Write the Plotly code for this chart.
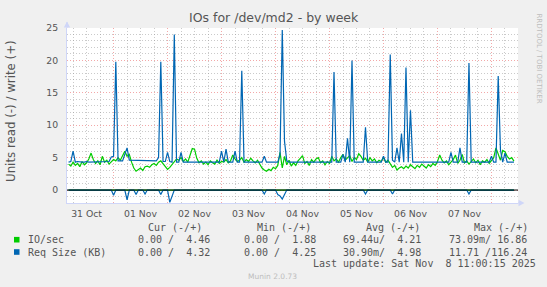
import plotly.graph_objects as go
import pandas as pd

# ---------------- data (hourly samples, hour 0 = 2025-11-01 00:00) ----------------
start_hour = -20

# IO/sec  (write, plotted +)
write_io = [
    4.0, 3.7, 4.3, 3.8, 4.1, 3.6, 4.4, 3.9, 4.2, 4.8,
    5.7, 4.7, 4.1, 4.5, 3.9, 5.2, 4.3, 4.6, 4.0, 4.4,
    4.7, 4.5, 5.0, 4.6, 5.3, 6.0, 5.2, 5.5, 4.3, 3.4,
    2.9, 3.1, 3.4, 3.0, 3.6, 3.7, 3.5, 3.9, 4.1, 3.8,
    4.3, 4.5, 4.0, 3.6, 3.2, 3.5, 4.0, 4.4, 4.8, 4.6,
    5.0, 4.4, 4.8, 4.3, 5.2, 6.4, 6.3, 4.9, 4.2, 4.5,
    4.0, 4.3, 3.9, 4.5, 4.2, 4.0, 4.6, 4.1, 4.4, 4.3,
    4.7, 4.2, 4.5, 5.4, 4.8, 4.4, 4.6, 5.0, 4.3, 4.7,
    4.4, 4.9, 4.5, 4.2, 4.6, 4.0, 3.4, 3.1, 2.9, 3.2,
    3.0, 3.5, 3.3, 3.8, 5.8, 3.4, 5.2, 3.9, 4.6, 3.7,
    4.2, 3.8, 4.5, 4.9, 5.3, 4.1, 4.4, 3.8, 4.7, 4.3,
    4.8, 5.0, 4.2, 4.5, 3.9, 4.4, 4.1, 5.2, 4.5, 4.8,
    4.3, 5.0, 5.5, 4.6, 4.9, 5.3, 4.4, 5.0, 4.7, 5.6,
    5.2, 4.6, 4.9, 4.3, 5.0, 4.5, 4.8, 4.2, 4.6, 4.4,
    5.0, 4.3, 4.6, 4.1, 3.5, 3.8, 3.1, 3.4, 3.6, 3.3,
    3.7, 3.4, 3.9, 3.6, 3.3, 3.8, 3.5, 4.0, 3.7, 3.4,
    3.9, 3.6, 4.1, 3.8, 4.4, 5.4, 4.6, 4.2, 4.5, 3.9,
    4.3, 4.7, 5.4, 4.1, 4.6, 5.5, 4.2, 4.5, 4.0, 4.4,
    4.8, 4.2, 4.6, 3.9, 4.5, 4.3, 4.7, 4.1, 4.6, 5.0,
    6.5, 5.6, 4.6, 6.1, 5.9, 5.2, 4.8, 5.0, 4.46,
]

# Req Size (KB)  (write, plotted +)
write_req = [
    4.3, 4.4, 6.0, 4.3, 4.4, 4.3, 4.3, 4.3, 4.4, 4.3,
    4.3, 4.3, 4.4, 4.3, 4.3, 4.3, 4.4, 4.3, 4.4, 5.1,
    5.2, 19.8, 4.5, 4.5, 4.5, 5.5, 6.5, 4.6, 4.6, 4.6,
    4.6, 4.6, 4.6, 4.6, 4.5, 4.5, 4.5, 4.5, 4.5, 4.5,
    5.0, 19.8, 4.4, 4.4, 5.8, 4.4, 4.3, 24.0, 4.3, 4.3,
    5.8, 4.3, 4.3, 4.3, 4.3, 4.3, 4.3, 4.3, 4.3, 4.3,
    4.3, 4.3, 4.3, 4.3, 4.3, 4.3, 4.3, 4.3, 6.0, 4.3,
    6.3, 4.3, 4.3, 4.3, 6.0, 4.3, 4.3, 18.4, 4.3, 4.3,
    4.3, 4.3, 4.3, 4.3, 4.3, 4.3, 4.3, 5.2, 4.3, 4.3,
    4.3, 4.3, 4.3, 4.3, 5.5, 24.7, 7.5, 4.5, 4.3, 4.3,
    4.3, 4.3, 4.3, 4.3, 4.3, 4.3, 4.3, 4.3, 4.3, 4.3,
    4.3, 4.3, 4.3, 4.3, 4.3, 4.3, 4.3, 4.3, 18.2, 4.3,
    4.3, 4.3, 5.5, 4.3, 8.0, 4.3, 20.0, 4.3, 4.3, 4.3,
    4.3, 4.3, 9.7, 4.3, 4.3, 4.3, 4.3, 4.3, 4.3, 4.3,
    5.2, 4.3, 4.3, 20.9, 4.6, 4.3, 6.5, 4.3, 8.7, 4.3,
    18.9, 4.3, 12.3, 4.3, 4.3, 4.3, 4.3, 4.3, 4.3, 4.3,
    4.3, 4.3, 4.3, 4.3, 4.3, 4.3, 4.3, 4.3, 4.3, 4.3,
    5.8, 4.3, 4.3, 4.3, 6.5, 4.3, 4.3, 4.3, 19.6, 4.3,
    4.3, 4.3, 4.3, 4.3, 4.3, 4.3, 4.3, 4.3, 5.2, 4.3,
    4.3, 17.6, 6.2, 4.3, 5.7, 4.3, 4.3, 4.3, 4.32,
]

# read side (plotted -), non-zero samples only
read_req_hours = [0, 6, 10, 14, 21, 25, 26, 67, 73, 74, 75, 76, 112, 124, 158]
read_req_vals = [0.8, 1.5, 0.7, 0.6, 0.7, 1.9, 0.8, 0.6, 0.7, 0.9, 1.4, 0.6, 0.6, 0.6, 0.6]
read_io_hours = [1, 27, 75, 130]
read_io_vals = [0.05, 0.07, 0.04, 0.03]

# legend / text
title = "IOs for /dev/md2 - by week"
y_title = "Units read (-) / write (+)"
series_names = ["IO/sec", "Req Size (KB)"]
col_headers = ["Cur (-/+)", "Min (-/+)", "Avg (-/+)", "Max (-/+)"]
io_stats = ["0.00 /  4.46", "0.00 /  1.88", "69.44u/  4.21", "73.09m/ 16.86"]
req_stats = ["0.00 /  4.32", "0.00 /  4.25", "30.90m/  4.98", "11.71 /116.24"]
last_update = "Last update: Sat Nov  8 11:00:15 2025"
footer = "Munin 2.0.73"
side_text = "RRDTOOL / TOBI OETIKER"

GREEN = "#00CC00"
BLUE = "#0066B3"
TXT = "#555555"

# ---------------- build ----------------
hours = list(range(start_hour, start_hour + len(write_io)))
t0 = pd.Timestamp("2025-11-01 00:00")
x = [t0 + pd.Timedelta(hours=h) for h in hours]


def neg_series(hrs, vals):
    d = dict(zip(hrs, vals))
    return [-d.get(h, 0.0) for h in hours]


W, H = 547, 287
L, R, T, B = 67, 29, 28, 84
PW, PH = W - L - R, H - T - B


def px(v):
    return (v - L) / PW


def py(v):
    return (H - B - v) / PH


def nb(s):
    return s.replace(" ", "\u00a0")


fig = go.Figure()
fig.add_trace(go.Scatter(x=x, y=neg_series(read_io_hours, read_io_vals), mode="lines",
                         line=dict(color=GREEN, width=1.2), showlegend=False))
fig.add_trace(go.Scatter(x=x, y=write_io, mode="lines",
                         line=dict(color=GREEN, width=1.2), showlegend=False))
fig.add_trace(go.Scatter(x=x, y=neg_series(read_req_hours, read_req_vals), mode="lines",
                         line=dict(color=BLUE, width=1.2), showlegend=False))
fig.add_trace(go.Scatter(x=x, y=write_req, mode="lines",
                         line=dict(color=BLUE, width=1.2), showlegend=False))

MGRID = "rgba(235,110,110,0.6)"
GRID = "rgba(150,150,150,0.5)"
DASH = "1px,2px"
AXIS = "#CFD6F8"
tickfont = dict(family="DejaVu Sans", size=9.3, color=TXT)

fig.update_layout(
    width=W, height=H,
    margin=dict(l=L, r=R, t=T, b=B, pad=0),
    paper_bgcolor="#F0F0F0", plot_bgcolor="#FFFFFF",
    showlegend=False,
    xaxis=dict(
        type="date",
        range=[(t0 + pd.Timedelta(hours=-20.7)).isoformat(), (t0 + pd.Timedelta(hours=179.8)).isoformat()],
        tick0="2025-11-01", dtick=86400000, ticklabelmode="period", tickformat="%d %b",
        showgrid=True, gridcolor=MGRID, griddash=DASH, gridwidth=1,
        minor=dict(dtick=6 * 3600000, tick0="2025-11-01", showgrid=True, gridcolor=GRID, griddash=DASH, gridwidth=1),
        showline=True, linecolor=AXIS, linewidth=1, ticks="", zeroline=False,
        tickfont=tickfont, ticklabelstandoff=2,
    ),
    yaxis=dict(
        range=[-2, 25], tick0=0, dtick=5,
        showgrid=True, gridcolor=MGRID, griddash=DASH, gridwidth=1,
        minor=dict(dtick=1, tick0=0, showgrid=True, gridcolor=GRID, griddash=DASH, gridwidth=1),
        showline=True, linecolor=AXIS, linewidth=1, ticks="", zeroline=False,
        tickfont=tickfont, ticklabelstandoff=6,
    ),
)

shapes = []
# zero rule
shapes.append(dict(type="line", xref="paper", yref="y", x0=0, x1=1, y0=0, y1=0,
                   line=dict(color="#000000", width=1), layer="above"))
# axis extensions and arrows
shapes.append(dict(type="line", xref="paper", yref="paper", x0=px(67), x1=px(67), y0=py(28), y1=py(22),
                   line=dict(color=AXIS, width=1)))
shapes.append(dict(type="path", xref="paper", yref="paper",
                   path=f"M {px(63.8)},{py(27.5)} L {px(70.2)},{py(27.5)} L {px(67)},{py(21.5)} Z",
                   fillcolor=AXIS, line=dict(width=0)))
shapes.append(dict(type="line", xref="paper", yref="paper", x0=px(518), x1=px(521), y0=py(203), y1=py(203),
                   line=dict(color=AXIS, width=1)))
shapes.append(dict(type="path", xref="paper", yref="paper",
                   path=f"M {px(518.5)},{py(199.8)} L {px(518.5)},{py(206.2)} L {px(524.5)},{py(203)} Z",
                   fillcolor=AXIS, line=dict(width=0)))
# legend swatches
for col, yc in ((GREEN, 239.7), (BLUE, 252.0)):
    shapes.append(dict(type="rect", xref="paper", yref="paper",
                       x0=px(14), x1=px(19.5), y0=py(yc - 2.8), y1=py(yc + 2.8),
                       fillcolor=col, line=dict(width=0)))
fig.update_layout(shapes=shapes)

ann = []


def text(s, xp, yp, size, color=TXT, family="DejaVu Sans", xanchor="left", angle=0):
    ann.append(dict(text=nb(s), x=px(xp), y=py(yp), xref="paper", yref="paper",
                    xanchor=xanchor, yanchor="middle", showarrow=False, borderpad=0,
                    textangle=angle, font=dict(family=family, size=size, color=color)))


text(title, 273.5, 18, 12.5, xanchor="center")
text(y_title, 11, 111, 11.8, xanchor="center", angle=-90)
text(side_text, 538.5, 58, 7, color="#BDBDBD", xanchor="center", angle=90)

MONO = "DejaVu Sans Mono"
hdr_x = [147.3, 256, 365, 472.7]
val_x = [137.3, 243.3, 342.3, 447.7]
for s, xp in zip(col_headers, hdr_x):
    text(s, xp, 227.3, 10, family=MONO)
for name, stats, yc in ((series_names[0], io_stats, 239.7), (series_names[1], req_stats, 252.0)):
    text(name, 26.7, yc, 10, family=MONO)
    for s, xp in zip(stats, val_x):
        text(s, xp, yc, 10, family=MONO)
text(last_update, 311.7, 263.4, 10, family=MONO)
text(footer, 272.7, 276.3, 7.5, color="#BDBDBD", xanchor="center")

fig.update_layout(annotations=ann)
fig.write_html("out.html")
